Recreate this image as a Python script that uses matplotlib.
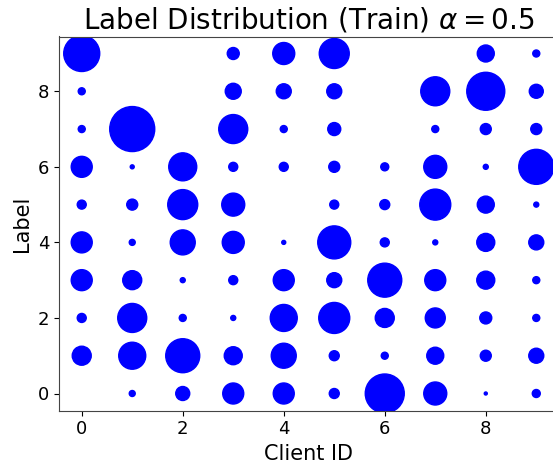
import numpy as np
import matplotlib
matplotlib.use("Agg")
import matplotlib.pyplot as plt

# samples per (label, client); rows are labels 0..9, columns are clients 0..9
clients = list(range(10))
labels = list(range(10))
counts_label0 = [0, 54, 294, 662, 662, 150, 2282, 794, 14, 96]
counts_label1 = [542, 1094, 1734, 486, 938, 150, 74, 434, 182, 338]
counts_label2 = [122, 1262, 74, 38, 1094, 1442, 542, 600, 216, 74]
counts_label3 = [662, 542, 38, 122, 662, 338, 1734, 662, 486, 74]
counts_label4 = [662, 54, 938, 726, 24, 1634, 122, 38, 486, 338]
counts_label5 = [122, 182, 1350, 794, 0, 122, 150, 1442, 434, 38]
counts_label6 = [662, 24, 1176, 122, 122, 182, 96, 794, 38, 1838]
counts_label7 = [74, 3038, 0, 1262, 74, 254, 0, 74, 182, 182]
counts_label8 = [74, 0, 0, 384, 338, 338, 0, 1262, 2166, 294]
counts_label9 = [1944, 0, 0, 216, 726, 1350, 0, 0, 434, 74]

counts = np.array([counts_label0, counts_label1, counts_label2, counts_label3,
                   counts_label4, counts_label5, counts_label6, counts_label7,
                   counts_label8, counts_label9])

fig = plt.figure(figsize=(5.53, 4.68), dpi=100)
ax = fig.add_axes([59 / 553, 57.5 / 468, 500 / 553, 374 / 468])

xs, ys, ss = [], [], []
for lab in labels:
    for c in clients:
        xs.append(c)
        ys.append(lab)
        ss.append(counts[lab, c] * 0.3456)
ax.scatter(xs, ys, s=ss, c="b")

ax.set_xlim(-0.45, 9.45)
ax.set_ylim(-0.45, 9.45)
ax.set_xticks([0, 2, 4, 6, 8])
ax.set_yticks([0, 2, 4, 6, 8])
ax.tick_params(labelsize=13)
for sp in ax.spines.values():
    sp.set_color("#444444")
ax.set_xlabel("Client ID", fontsize=15)
ax.set_ylabel("Label", fontsize=15)
ax.set_title(r"Label Distribution (Train) $\alpha = 0.5$", fontsize=20)

fig.savefig("out.png", dpi=100)
